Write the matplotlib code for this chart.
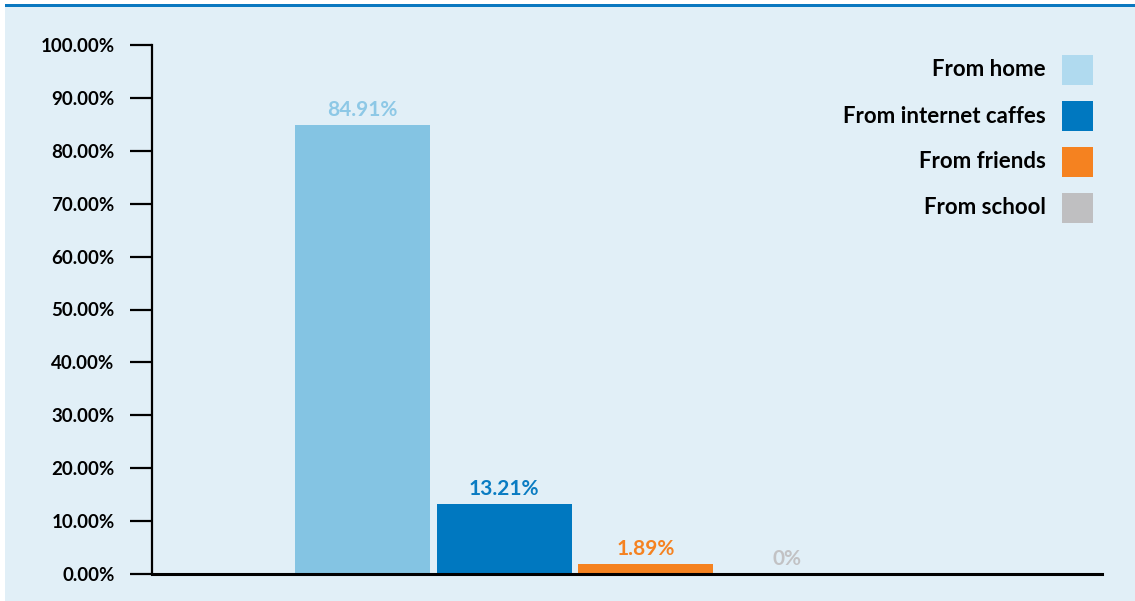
import matplotlib.pyplot as plt
from matplotlib.patches import Rectangle

sources = ["From home", "From internet caffes", "From friends", "From school"]
shares = [84.91, 13.21, 1.89, 0.0]
share_labels = ["84.91%", "13.21%", "1.89%", "0%"]
bar_colors = ["#84C4E3", "#0078C0", "#F58220", "#BFBFC1"]
swatch_colors = ["#B0DAEF", "#0078C0", "#F58220", "#BFBFC1"]
label_colors = ["#8DC8E6", "#0A7CC2", "#F58220", "#C2C2C4"]
yticks = [0, 10, 20, 30, 40, 50, 60, 70, 80, 90, 100]

plt.rcParams['font.family'] = ['Lato', 'DejaVu Sans']
plt.rcParams['font.weight'] = 'bold'

W, H = 1135, 601
fig = plt.figure(figsize=(W / 100, H / 100), dpi=100)
fig.patch.set_facecolor("white")

# light panel and the blue rule on top
fig.patches.append(Rectangle((5 / W, 0), 1, (H - 7) / H, transform=fig.transFigure,
                             facecolor="#E1EFF7", edgecolor="none", zorder=-2))
fig.patches.append(Rectangle((5 / W, (H - 7) / H), 1, 3 / H, transform=fig.transFigure,
                             facecolor="#0B78C0", edgecolor="none", zorder=-2))

ax = fig.add_axes([152 / W, (H - 574) / H, 950 / W, 529 / H])
ax.set_facecolor("none")

x = list(range(len(sources)))
ax.bar(x, shares, width=0.955, color=bar_colors, zorder=2)
for xi, v, lab, c in zip(x, shares, share_labels, label_colors):
    ax.text(xi, v + 1.0, lab, ha="center", va="bottom", color=c,
            fontsize=15, fontweight="bold")

ax.set_xlim(-1.49, 5.23)
ax.set_ylim(0, 100)
ax.set_yticks(yticks)
ax.set_yticklabels([f"{t:.2f}%" for t in yticks])
ax.set_xticks([])
ax.tick_params(axis="y", direction="out", length=16, width=1.6, pad=11,
               labelsize=13.5, colors="black")
for lab in ax.get_yticklabels():
    lab.set_fontweight("bold")
for s in ["top", "right"]:
    ax.spines[s].set_visible(False)
ax.spines["left"].set_linewidth(1.6)
ax.spines["bottom"].set_linewidth(2.2)

# legend on the right, text right-aligned before each swatch
for i, (name, c) in enumerate(zip(sources, swatch_colors)):
    yc = 70 + 46 * i
    fig.text(1046 / W, (H - yc) / H, name, ha="right", va="center",
             fontsize=16, fontweight="bold", color="black")
    fig.patches.append(Rectangle((1062 / W, (H - yc - 15) / H), 31 / W, 30 / H,
                                 transform=fig.transFigure, facecolor=c,
                                 edgecolor="none", zorder=3))

fig.savefig("out.png", dpi=100)
